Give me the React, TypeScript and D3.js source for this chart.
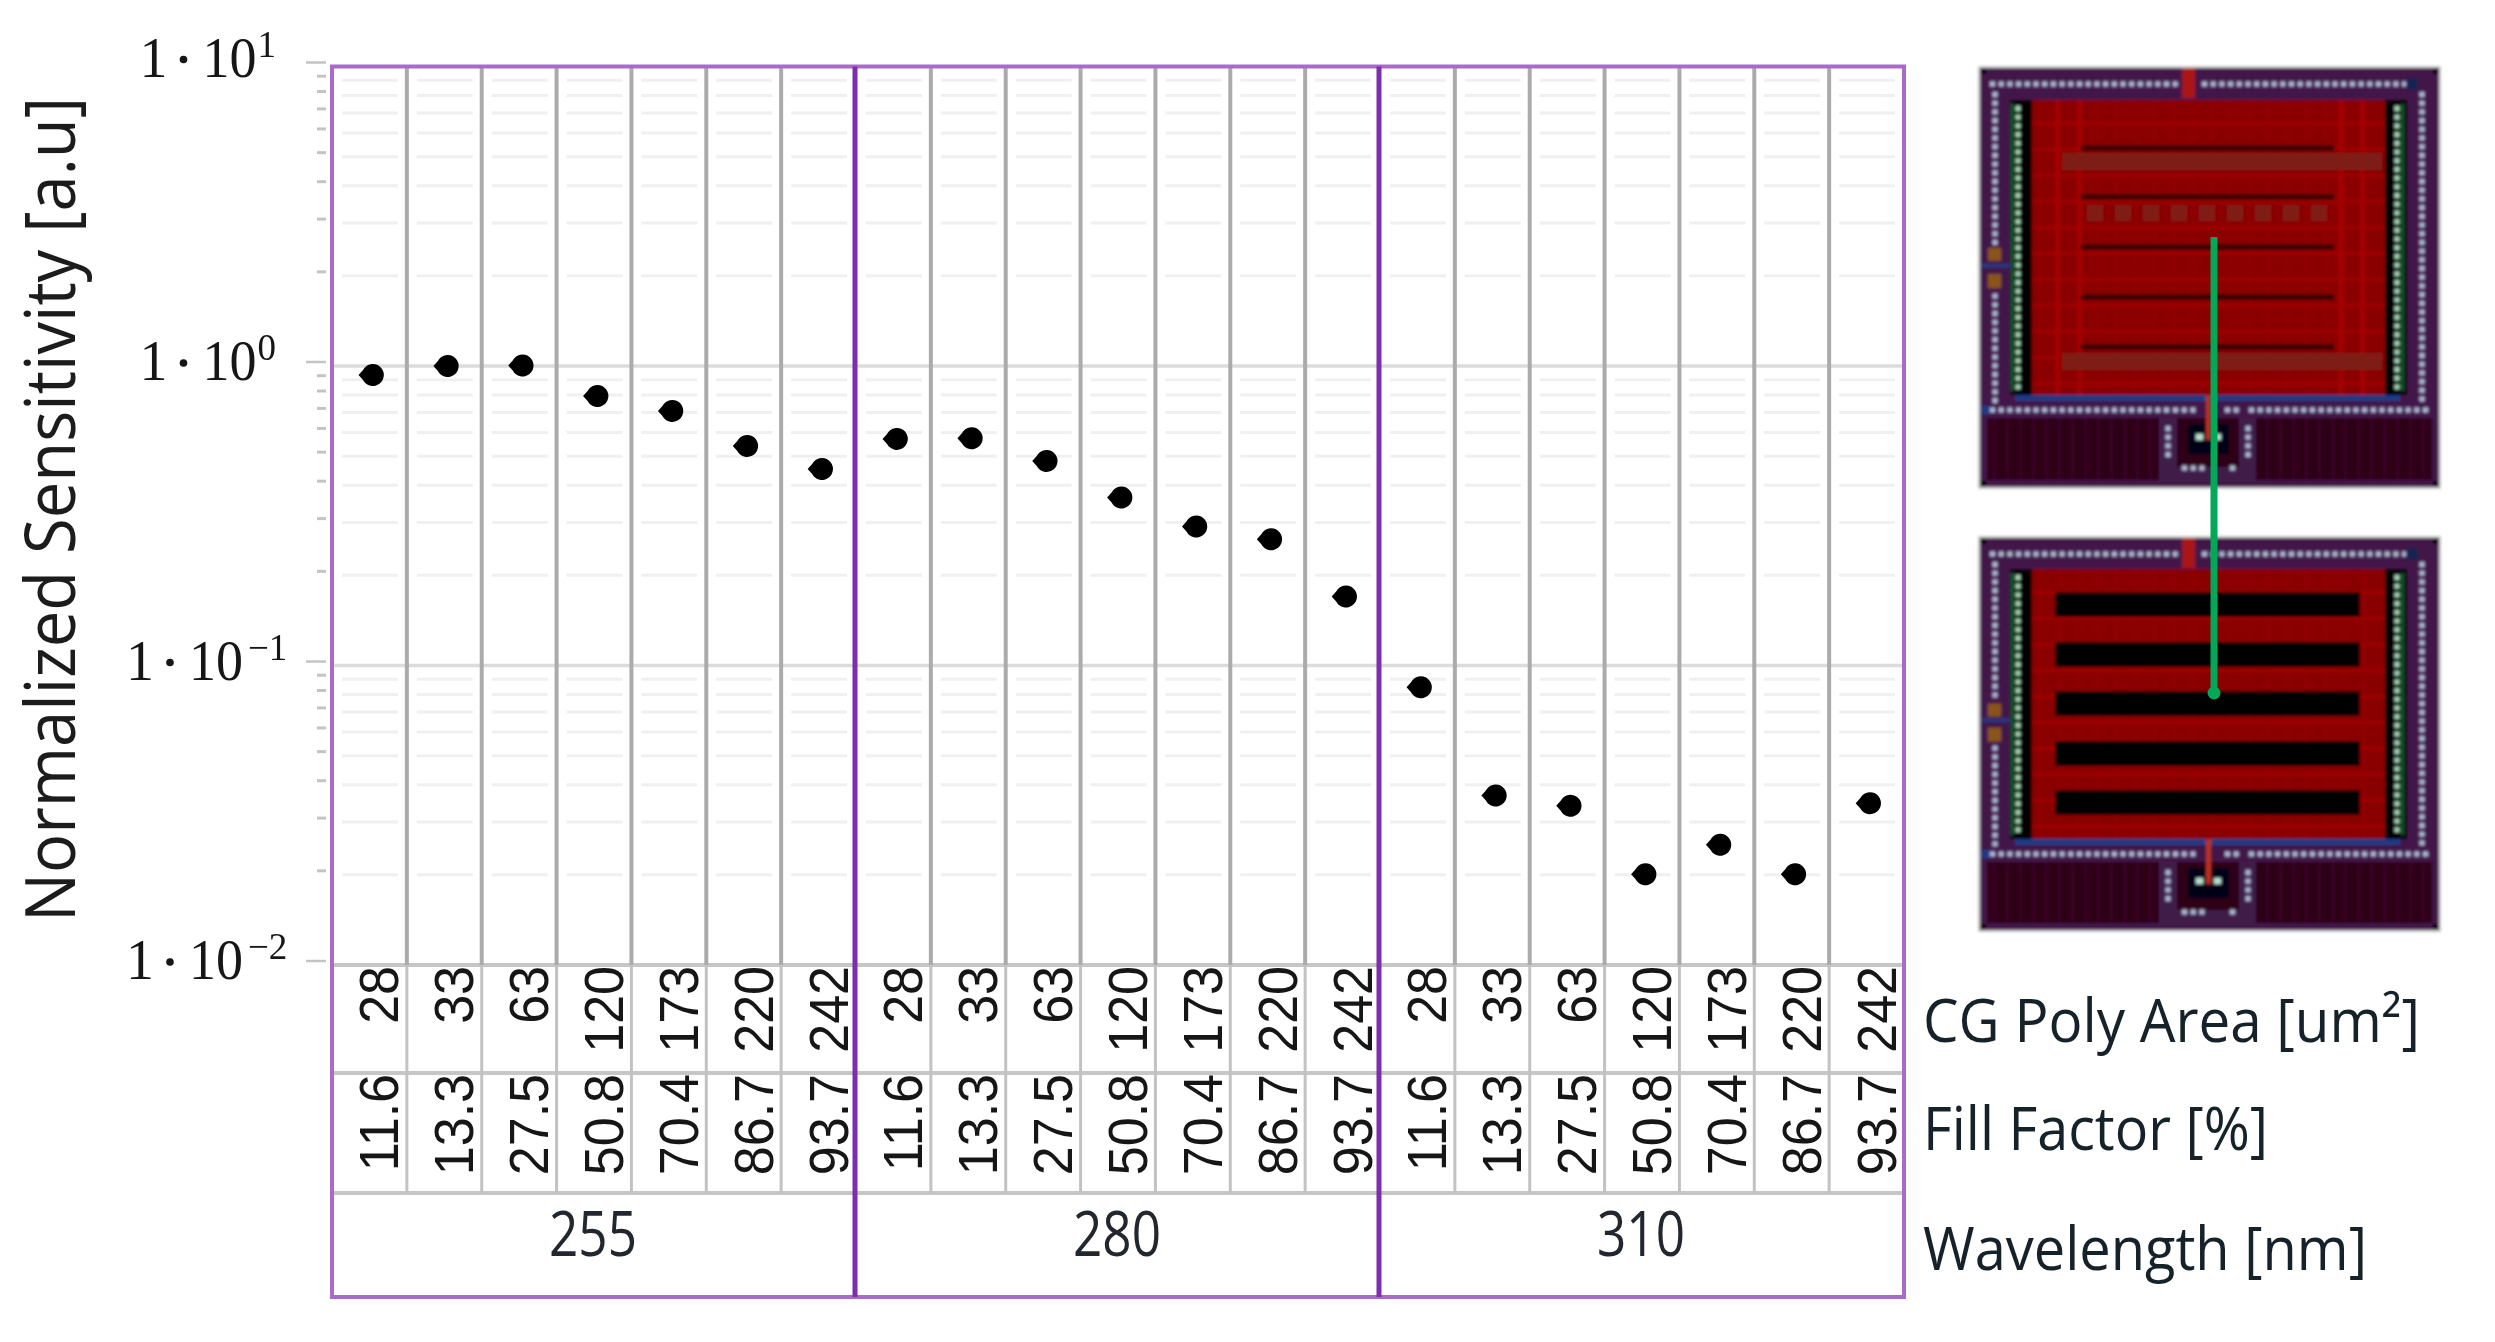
import * as d3 from "d3";

const WIDTH = 2495;
const HEIGHT = 1342;
const PLOT = { left: 332, right: 1904, top: 66.5, bottom: 965, row1: 1073, row2: 1193, frameBottom: 1297 };

const wavelengths = ["255", "280", "310"];
const polyArea = ["28", "33", "63", "120", "173", "220", "242"];
const fillFactor = ["11.6", "13.3", "27.5", "50.8", "70.4", "86.7", "93.7"];
const sens255 = [0.933, 1.0, 1.004, 0.794, 0.708, 0.541, 0.453];
const sens280 = [0.571, 0.574, 0.482, 0.364, 0.291, 0.264, 0.17];
const sens310 = [0.0846, 0.0368, 0.034, 0.0201, 0.0252, 0.0201, 0.0347];
const decades = [1, 0, -1, -2];
const minorSteps = [2, 3, 4, 5, 6, 7, 8, 9];

const values = [...sens255, ...sens280, ...sens310];

const yScale = d3.scaleLog().domain([10, 0.01]).range([PLOT.top, PLOT.bottom]);
const xScale = d3
  .scaleBand<number>()
  .domain(d3.range(values.length))
  .range([PLOT.left, PLOT.right]);
const groupScale = d3
  .scaleBand<string>()
  .domain(wavelengths)
  .range([PLOT.left, PLOT.right]);

const minorValues = decades
  .slice(0, 3)
  .flatMap((e) => minorSteps.map((m) => m * Math.pow(10, e - 1)));

const SANS = "'Open Sans', 'Noto Sans', sans-serif";
const DOT = "M-13.5,0 L-9,-5 A11,11 0 1 1 -9,5 Z";

// squares that look like the via rows of the layout
const viaRow = (x0: number, x1: number, y: number, fill = "#aebbd8") =>
  d3.range(x0, x1, 8.7).map((x) => (
    <rect key={`r${x0}-${x}-${y}`} x={x} y={y - 2.5} width={5} height={5} fill={fill} />
  ));
const viaCol = (x: number, y0: number, y1: number, fill = "#aebbd8") =>
  d3.range(y0, y1, 8.7).map((y) => (
    <rect key={`c${x}-${y}`} x={x - 2.5} y={y} width={5} height={5} fill={fill} />
  ));

type LayoutProps = {
  x: number;
  y: number;
  h: number;
  redTop: number;
  redBottom: number;
  children: React.ReactNode;
};

const Layout = ({ x, y, h, redTop, redBottom, children }: LayoutProps) => {
  const w = 459;
  const blue = redBottom;
  const rowY = redBottom + 15;
  const panel = redBottom + 23;
  return (
    <g transform={`translate(${x},${y})`} filter="url(#soft)">
      <rect x={-1} y={-1} width={w + 2} height={h + 2} fill="none" stroke="#ccc" strokeWidth={2} />
      <rect width={w} height={h} fill="#43164a" />
      {[[0, 0], [w - 6, 0], [0, h - 6], [w - 6, h - 6]].map(([a, b]) => (
        <rect key={`${a}-${b}`} x={a} y={b} width={6} height={6} fill="#000" />
      ))}
      {viaRow(10, 196, 16)}
      {viaRow(222, 429, 16)}
      <rect x={202} y={0} width={13} height={30} fill="#a81818" />
      <rect x={426} y={10} width={12} height={12} fill="#16204f" />
      {viaCol(15, 24, redBottom * 0.53)}
      {viaCol(15, redBottom * 0.69, redBottom + 6)}
      {viaCol(442, 24, redBottom + 6)}
      <rect x={8} y={redBottom * 0.55} width={13} height={13} fill="#8a5414" />
      <rect x={8} y={redBottom * 0.63} width={13} height={14} fill="#8a5414" />
      <rect x={0} y={redBottom * 0.6} width={33} height={3} fill="#1c3c90" />

      <rect x={30} y={redTop} width={22} height={redBottom - redTop} fill="#000" />
      <rect x={405} y={redTop} width={22} height={redBottom - redTop} fill="#000" />
      <rect x={31} y={redTop + 4} width={3} height={redBottom - redTop - 8} fill="#0c5a2c" />
      <rect x={421} y={redTop + 4} width={3} height={redBottom - redTop - 8} fill="#0c5a2c" />
      {viaCol(38, redTop + 6, redBottom - 8, "#a8d8b8")}
      {viaCol(417, redTop + 6, redBottom - 8, "#a8d8b8")}

      <rect x={52} y={redTop} width={353} height={redBottom - redTop} fill="#8a0000" />
      {children}

      <rect x={35} y={blue} width={385} height={6} fill="#1e3a84" />
      <rect x={0} y={rowY - 4} width={10} height={8} fill="#1e3a84" />
      {viaRow(10, 186, rowY)}
      {viaRow(193, 212, rowY)}
      {viaRow(245, 262, rowY)}
      {viaRow(269, 446, rowY)}

      <rect x={7} y={panel} width={445} height={h - panel - 7} fill="#2d0019" />
      {d3.range(14, 450, 13).map((gx) => (
        <rect key={gx} x={gx} y={panel} width={1} height={h - panel - 7} fill="#4a1034" />
      ))}
      <rect x={179} y={panel} width={97} height={h - panel - 5} fill="#3f1a4a" />
      <rect x={197} y={panel} width={62} height={h - panel - 20} fill="#2d0019" />
      {viaCol(188, panel + 8, panel + 36)}
      {viaCol(268, panel + 8, panel + 36)}
      {viaRow(202, 228, panel + 50)}
      {viaRow(250, 256, panel + 50)}
      <rect x={208} y={panel + 6} width={41} height={30} fill="#020214" />
      <rect x={216} y={panel + 16} width={7} height={6} fill="#b8e0d0" />
      <rect x={234} y={panel + 16} width={7} height={6} fill="#b8e0d0" />
      <rect x={226} y={blue} width={5} height={panel + 22 - blue} fill="#b83020" />
    </g>
  );
};

const bandGrid = (redTop: number, redBottom: number) => (
  <>
    {d3.range(redTop + 22, redBottom, 26).map((gy) => (
      <rect key={gy} x={52} y={gy} width={353} height={3} fill="#a00000" />
    ))}
    {d3.range(60, 400, 19).map((gx) => (
      <rect key={gx} x={gx} y={redTop} width={1.5} height={redBottom - redTop} fill="#960000" />
    ))}
  </>
);

const TopLayout = () => {
  const slits = [80, 129, 179, 229, 279];
  const contactRows = [85, 285];
  return (
    <Layout x={1980} y={68} h={419} redTop={32} redBottom={327}>
      {bandGrid(32, 327)}
      {[75, 97, 358, 380].map((gx) => (
        <rect key={gx} x={gx} y={32} width={5} height={295} fill="#a40000" />
      ))}
      {contactRows.map((cy) => (
        <rect key={cy} x={82} y={cy} width={320} height={17} fill="#7e1c16" />
      ))}
      {d3.range(107, 345, 28).map((cx) => (
        <rect key={cx} x={cx} y={137} width={16} height={16} fill="#801c16" />
      ))}
      {slits.map((sy) => (
        <rect key={sy} x={101} y={sy - 2.5} width={253} height={5} fill="#300000" />
      ))}
    </Layout>
  );
};

const BottomLayout = () => {
  const bars = [54, 104, 153, 203, 252];
  return (
    <Layout x={1980} y={538} h={392} redTop={31} redBottom={301}>
      {bandGrid(31, 301)}
      {bars.map((by) => (
        <rect key={by} x={75} y={by} width={305} height={25} fill="#030000" />
      ))}
    </Layout>
  );
};

export default function App() {
  const cw = xScale.bandwidth();
  const cellX = (i: number) => xScale(i) as number;
  return (
    <svg
      width={WIDTH}
      height={HEIGHT}
      viewBox={`0 0 ${WIDTH} ${HEIGHT}`}
      style={{ position: "absolute", left: 0, top: 0, background: "#fff" }}
    >
      <defs>
        <filter id="soft" x="-2%" y="-2%" width="104%" height="104%">
          <feGaussianBlur stdDeviation={1.7} />
        </filter>
        <filter id="soft2" x="0" y="0" width="100%" height="100%" filterUnits="userSpaceOnUse">
          <feGaussianBlur stdDeviation={0.7} />
        </filter>
      </defs>

      <g filter="url(#soft2)">
        {/* grid, broken around the column lines */}
        {minorValues.map((v) =>
          values.map((_, i) => (
            <line
              key={`${v}-${i}`}
              x1={cellX(i) + 10}
              x2={cellX(i) + cw - 9}
              y1={yScale(v)}
              y2={yScale(v)}
              stroke="#f0f0f0"
              strokeWidth={3}
            />
          ))
        )}
        {[0, -1].map((e) => (
          <line
            key={e}
            x1={PLOT.left}
            x2={PLOT.right}
            y1={yScale(Math.pow(10, e))}
            y2={yScale(Math.pow(10, e))}
            stroke="#dcdcdc"
            strokeWidth={3.5}
          />
        ))}

        {/* y ticks sit a little above the grid in the original */}
        <g transform="translate(0,-4)" stroke="#c4c4c4">
          {decades.map((e) => (
            <line key={e} x1={306} x2={326} y1={yScale(Math.pow(10, e))} y2={yScale(Math.pow(10, e))} strokeWidth={2.5} />
          ))}
          {minorValues.map((v) => (
            <line key={v} x1={317} x2={326} y1={yScale(v)} y2={yScale(v)} strokeWidth={3} />
          ))}
        </g>

        {/* table rows */}
        {[PLOT.bottom, PLOT.row1, PLOT.row2].map((ry) => (
          <line key={ry} x1={PLOT.left} x2={PLOT.right} y1={ry} y2={ry} stroke="#c6c6c6" strokeWidth={4} />
        ))}
        {values.map((_, i) =>
          i % polyArea.length === 0 ? null : (
            <g key={i}>
              <line x1={cellX(i)} x2={cellX(i)} y1={PLOT.top} y2={PLOT.bottom} stroke="#ababab" strokeWidth={4} />
              <line x1={cellX(i)} x2={cellX(i)} y1={PLOT.bottom} y2={PLOT.row2} stroke="#c2c2c2" strokeWidth={3} />
            </g>
          )
        )}

        {values.map((v, i) => (
          <path key={i} d={DOT} transform={`translate(${cellX(i) + cw / 2 + 2.6},${yScale(v)})`} fill="#000" />
        ))}

        {/* rotated table text, the picture is a little stretched sideways */}
        {values.map((_, i) => {
          const k = i % polyArea.length;
          const bx = cellX(i) + cw / 2 + 29;
          return (
            <g key={i} fontFamily="'Liberation Sans', Arial, sans-serif" fontSize={52} fill="#161616" textAnchor="end">
              <text transform={`translate(${bx},${PLOT.bottom + 1}) rotate(-90) scale(1,1.05)`}>{polyArea[k]}</text>
              <text transform={`translate(${bx},${PLOT.row1 + 1}) rotate(-90) scale(1,1.05)`}>{fillFactor[k]}</text>
            </g>
          );
        })}

        {/* frame and wavelength dividers */}
        <rect
          x={PLOT.left}
          y={PLOT.top}
          width={PLOT.right - PLOT.left}
          height={PLOT.frameBottom - PLOT.top}
          fill="none"
          stroke="#a86cc8"
          strokeWidth={4}
        />
        {wavelengths.slice(1).map((w) => (
          <line
            key={w}
            x1={(groupScale(w) as number) - 1}
            x2={(groupScale(w) as number) - 1}
            y1={PLOT.top}
            y2={PLOT.frameBottom}
            stroke="#7c2dab"
            strokeWidth={5}
          />
        ))}

        {wavelengths.map((w) => (
          <text
            key={w}
            x={(groupScale(w) as number) + groupScale.bandwidth() / 2 - 1}
            y={1256}
            textAnchor="middle"
            fontFamily={SANS}
            fontSize={62}
            fill="#20282e"
            textLength={88}
            lengthAdjust="spacingAndGlyphs"
          >
            {w}
          </text>
        ))}

        {/* y labels */}
        {decades.map((e) => {
          const base = yScale(Math.pow(10, e)) + (e === 1 ? 10 : 14);
          const sx = e < 0 ? 126 : 139.5;
          return (
            <g key={e} fontFamily="'Liberation Serif', serif" fill="#141414">
              <text x={sx} y={base} fontSize={56}>1</text>
              <circle cx={sx + 44} cy={base - 17} r={3.8} />
              <text x={sx + 63} y={base} fontSize={56} textLength={54} lengthAdjust="spacingAndGlyphs">10</text>
              <text x={sx + (e < 0 ? 122 : 118)} y={base - 20} fontSize={37}>
                {e < 0 ? `\u2212${-e}` : e}
              </text>
            </g>
          );
        })}

        <text
          transform="translate(75,922) rotate(-90)"
          fontFamily={SANS}
          fontSize={70}
          fill="#1a1a1a"
          textLength={825}
          lengthAdjust="spacingAndGlyphs"
        >
          Normalized Sensitivity [a.u]
        </text>

        {/* row captions */}
        <g fontFamily={SANS} fontSize={60} fill="#18232a">
          <text x={1923} y={1042} textLength={497} lengthAdjust="spacingAndGlyphs">CG Poly Area [um²]</text>
          <text x={1923} y={1150} textLength={345} lengthAdjust="spacingAndGlyphs">Fill Factor [%]</text>
          <text x={1923} y={1270} textLength={444} lengthAdjust="spacingAndGlyphs">Wavelength [nm]</text>
        </g>
      </g>

      <TopLayout />
      <BottomLayout />
      <line x1={2214} x2={2214} y1={237} y2={693} stroke="#00a858" strokeWidth={7} filter="url(#soft2)" />
      <circle cx={2214} cy={693} r={6.5} fill="#00a858" />
    </svg>
  );
}
